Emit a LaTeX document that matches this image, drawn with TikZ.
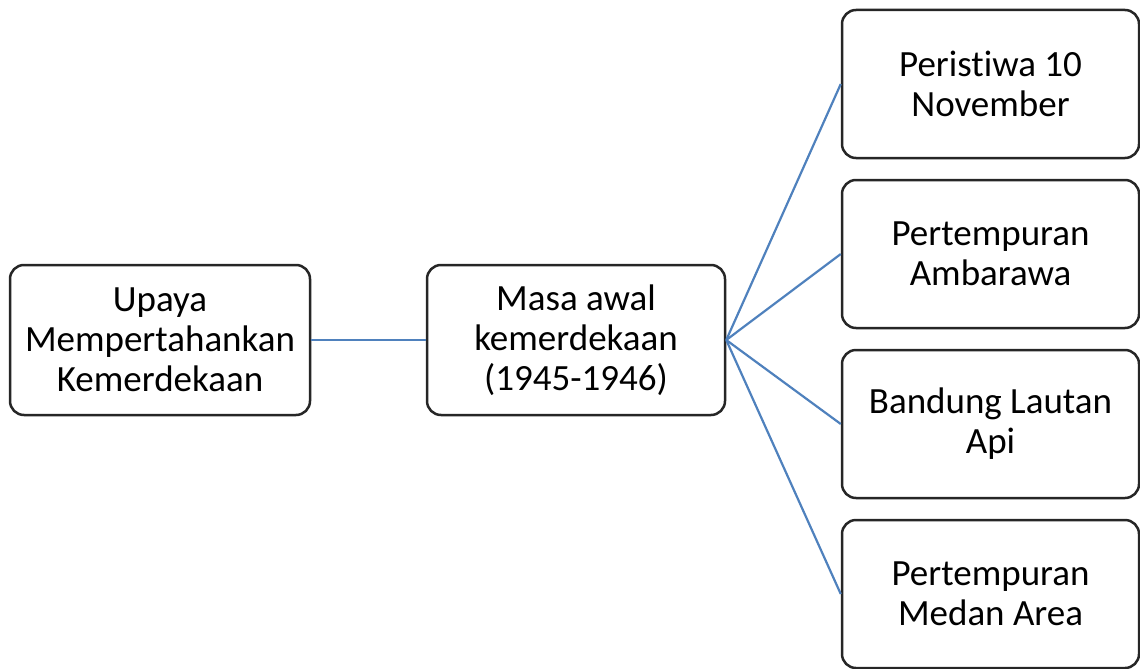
\documentclass[tikz,border=0pt]{standalone}
\usepackage{fontspec}
\setmainfont{Carlito}[Ligatures={NoCommon}]
\begin{document}
\begin{tikzpicture}[x=1pt,y=-1pt,
  box/.style={draw=black!85, line width=2.5pt, rounded corners=14pt, fill=white,
    minimum width=#1, minimum height=150pt, inner sep=0pt, align=center,
    font=\fontsize{37}{40}\selectfont},
  rbox/.style={box=297pt, minimum height=148pt}]
\definecolor{linkblue}{HTML}{4F81BD}
\tikzset{link/.style={draw=linkblue, line width=2.2pt}}
\useasboundingbox (0,0) rectangle (1140,669);
\node[box=300pt] (a) at (160,340) {Upaya\\Mempertahankan\\Kemerdekaan};
\node[box=298pt] (b) at (576,340) {Masa awal\\kemerdekaan\\(1945-1946)};
\node[rbox] (r1) at (990.5,84) {Peristiwa 10\\November};
\node[rbox] (r2) at (990.5,254) {Pertempuran\\Ambarawa};
\node[rbox] (r3) at (990.5,424) {Bandung Lautan\\Api};
\node[rbox] (r4) at (990.5,594) {Pertempuran\\Medan Area};
\draw[link] (a.east) -- (b.west);
\draw[link] (b.east) -- (r1.west);
\draw[link] (b.east) -- (r2.west);
\draw[link] (b.east) -- (r3.west);
\draw[link] (b.east) -- (r4.west);
\end{tikzpicture}
\end{document}
